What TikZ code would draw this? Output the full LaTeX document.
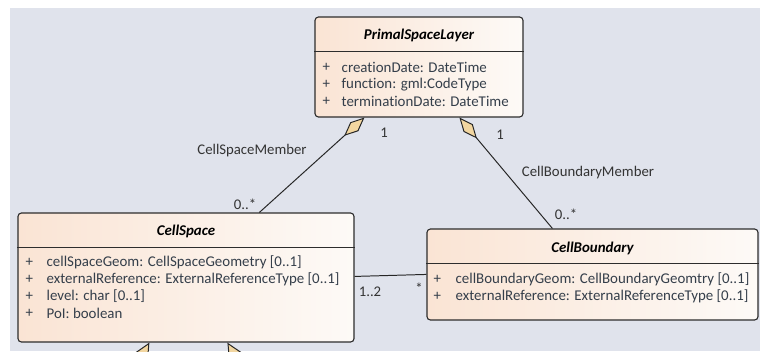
\documentclass[tikz,border=0pt]{standalone}
\usepackage{fontspec}
\setmainfont{Carlito}[Ligatures=NoCommon]
\usetikzlibrary{
    arrows.meta,
    positioning,
    calc
}
\definecolor{canvasgray}{RGB}{224, 227, 236}
\definecolor{classpeach}{RGB}{250, 228, 212}
\definecolor{classwhite}{RGB}{253, 250, 247}
\definecolor{classedge}{RGB}{45, 45, 45}
\definecolor{attrtext}{RGB}{52, 62, 74}
\definecolor{aggrtan}{RGB}{242, 214, 160}

\begin{document}
\begin{tikzpicture}[
        x=0.025cm, y=-0.025cm,
        classbox/.style={rectangle, draw=classedge, line width=0.8pt, rounded corners=2.5pt, left color=classpeach, right color=classwhite, inner sep=0pt},
        classname/.style={font=\fontsize{10.6}{12}\selectfont\bfseries\itshape, text=black, inner sep=0pt},
        attr/.style={font=\fontsize{10.6}{12}\selectfont, text=attrtext, anchor=west, inner sep=0pt},
        rolelabel/.style={font=\fontsize{10.5}{12}\selectfont, text=black!80, inner sep=0pt},
        assoc/.style={draw=black!85, line width=0.7pt},
        aggr/.style={assoc, {Diamond[length=0.68cm, width=0.3cm, fill=aggrtan]}-},
        gen/.style={assoc, -{Triangle[length=0.45cm, width=0.42cm, fill=aggrtan]}}
    ]
        \clip (0,0) rectangle (760,351);
        \fill[white] (0,0) rectangle (760,351);
        \fill[canvasgray] (10,8) rectangle (760,351);

        % Classes
        \node[classbox, minimum width=5.2cm, minimum height=2.5cm] (psl) at (419,67) {};
        \node[classbox, minimum width=8.4cm, minimum height=3.225cm] (cs) at (186,277.5) {};
        \node[classbox, minimum width=8.275cm, minimum height=2.275cm] (cb) at (592.5,274.5) {};

        % Class names and compartment lines
        \node[classname] (psl-name) at ($(psl.north)+(0,19)$) {PrimalSpaceLayer};
        \node[classname] (cs-name) at ($(cs.north)+(0,19)$) {CellSpace};
        \node[classname] (cb-name) at ($(cb.north)+(0,20)$) {CellBoundary};
        \foreach \c in {psl, cs, cb}
            \draw[classedge, line width=0.8pt] ($(\c.north west)+(0,35)$) -- ($(\c.north east)+(0,35)$);

        % Attributes
        \foreach \a [count=\i] in {creationDate: DateTime, function: gml:CodeType, terminationDate: DateTime} {
            \node[attr] (psl-p\i) at ($(psl.north west)+(8,51+17*\i-17)$) {+};
            \node[attr] (psl-a\i) at ($(psl.north west)+(27,51+17*\i-17)$) {\a};
        }
        \foreach \a [count=\i] in {cellSpaceGeom: CellSpaceGeometry [0..1], externalReference: ExternalReferenceType [0..1], level: char [0..1], PoI: boolean} {
            \node[attr] (cs-p\i) at ($(cs.north west)+(8,50+17*\i-17)$) {+};
            \node[attr] (cs-a\i) at ($(cs.north west)+(29,50+17*\i-17)$) {\a};
        }
        \foreach \a [count=\i] in {cellBoundaryGeom: CellBoundaryGeomtry [0..1], externalReference: ExternalReferenceType [0..1]} {
            \node[attr] (cb-p\i) at ($(cb.north west)+(7,51+17*\i-17)$) {+};
            \node[attr] (cb-a\i) at ($(cb.north west)+(29,51+17*\i-17)$) {\a};
        }

        % Associations
        \draw[aggr] ($(psl.south west)+(50,0)$) -- ($(cs.north west)+(242,0)$);
        \draw[aggr] ($(psl.south west)+(145,0)$) -- ($(cb.north west)+(126,0)$);
        \draw[assoc] ($(cs.north east)+(0,64)$) -- ($(cb.north west)+(0,46)$);

        % Multiplicities and role names
        \node[rolelabel] (m-psl-cs) at (384,133) {1};
        \node[rolelabel] (m-psl-cb) at (500,135) {1};
        \node[rolelabel] (m-cs) at (245,204) {0..*};
        \node[rolelabel] (m-cb) at (566,214) {0..*};
        \node[rolelabel] (m-cs-cb) at (370,292) {1..2};
        \node[rolelabel] (m-cb-cs) at (419,288) {*};
        \node[rolelabel] (cs-member) at (252,151) {CellSpaceMember};
        \node[rolelabel] (cb-member) at (588,173) {CellBoundaryMember};

        % Subclasses below
        \coordinate (sub-left) at (104,422);
        \coordinate (sub-right) at (274,422);
        \draw[gen] (sub-left) -- ($(cs.south west)+(132,0)$);
        \draw[gen] (sub-right) -- ($(cs.south west)+(210,0)$);
    \end{tikzpicture}
\end{document}
